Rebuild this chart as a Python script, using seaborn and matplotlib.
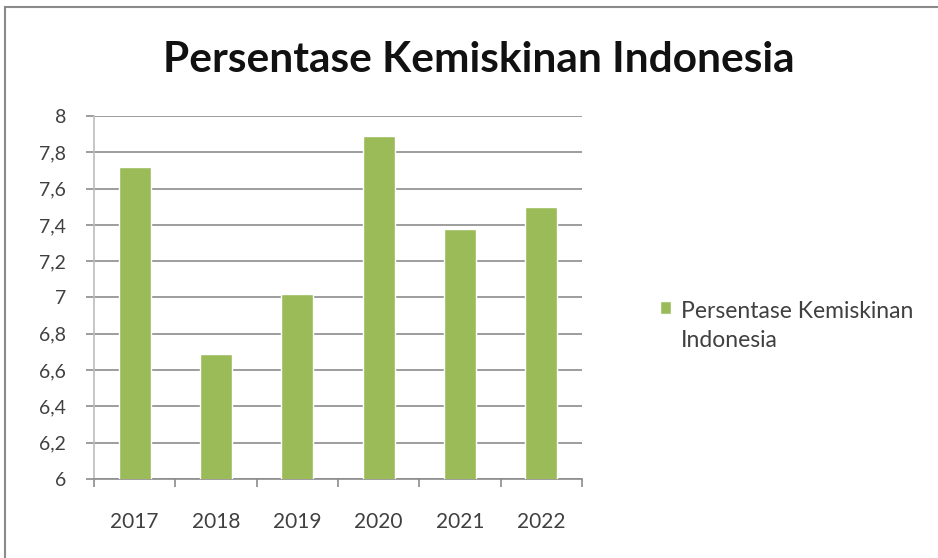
import matplotlib
matplotlib.use("Agg")
import matplotlib.pyplot as plt
import matplotlib.patches as mpatches
import seaborn as sns
import pandas as pd
import numpy as np

# data
tahun = ['2017', '2018', '2019', '2020', '2021', '2022']
persen = [7.72, 6.69, 7.02, 7.89, 7.38, 7.50]
yticks = [6, 6.2, 6.4, 6.6, 6.8, 7, 7.2, 7.4, 7.6, 7.8, 8]
judul = 'Persentase Kemiskinan Indonesia'
seri = 'Persentase Kemiskinan\nIndonesia'

df = pd.DataFrame({'tahun': tahun, 'persen': persen})

sns.set_theme(style='white')
plt.rcParams['font.family'] = ['Lato', 'DejaVu Sans']

fig = plt.figure(figsize=(9.38, 5.58), dpi=100)
ax = fig.add_axes([0.1002, 0.1416, 0.5203, 0.6505])

sns.barplot(data=df, x='tahun', y='persen', color='#9BBB59', width=0.39,
            saturation=1, label=seri, ax=ax, zorder=3)

ax.set_ylim(6, 8)
ax.set_xlim(-0.5, len(tahun) - 0.5)
ax.set_yticks(yticks)
ax.set_yticklabels([('%g' % v).replace('.', ',') for v in yticks])
ax.set_xlabel('')
ax.set_ylabel('')

# horizontal grid
for v in yticks:
    ax.axhline(v, color='#8c8c8c', lw=1.2, zorder=1)

for s in ['top', 'right']:
    ax.spines[s].set_visible(False)
ax.spines['left'].set_color('#bcbcbc')
ax.spines['left'].set_linewidth(1.2)
ax.spines['bottom'].set_color('#8c8c8c')
ax.spines['bottom'].set_linewidth(1.2)

ax.tick_params(axis='y', length=6, width=1.2, color='#8c8c8c', pad=14,
               labelsize=14, labelcolor='#404040', left=True)
ax.tick_params(axis='x', length=0, pad=24, labelsize=15, labelcolor='#404040')
ax.set_xticks(np.arange(-0.5, len(tahun)), minor=True)
ax.tick_params(axis='x', which='minor', length=6, width=1.2, color='#8c8c8c', bottom=True)

fig.text(0.51, 0.892, judul, ha='center', va='center', fontsize=30.5,
         fontweight='bold', color='#111111')

leg = ax.legend(loc='upper left', bbox_to_anchor=(0.7036, 0.46), bbox_transform=fig.transFigure,
                frameon=False, fontsize=16.5, handlelength=0.5, handleheight=0.5,
                handletextpad=0.4, borderpad=0, borderaxespad=0, labelcolor='#404040')
leg.get_texts()[0].set_linespacing(1.45)
# put the square next to the first line of the label
for col in leg._legend_handle_box.get_children():
    for item in col.get_children():
        item.align = 'top'

# outer chart frame
fig.patches.append(mpatches.Rectangle((0.0053, -0.02), 1.1, 1.0075, transform=fig.transFigure,
                                      fill=False, edgecolor='#8a8a8a', lw=1.5))

fig.savefig('out.png', dpi=100)
